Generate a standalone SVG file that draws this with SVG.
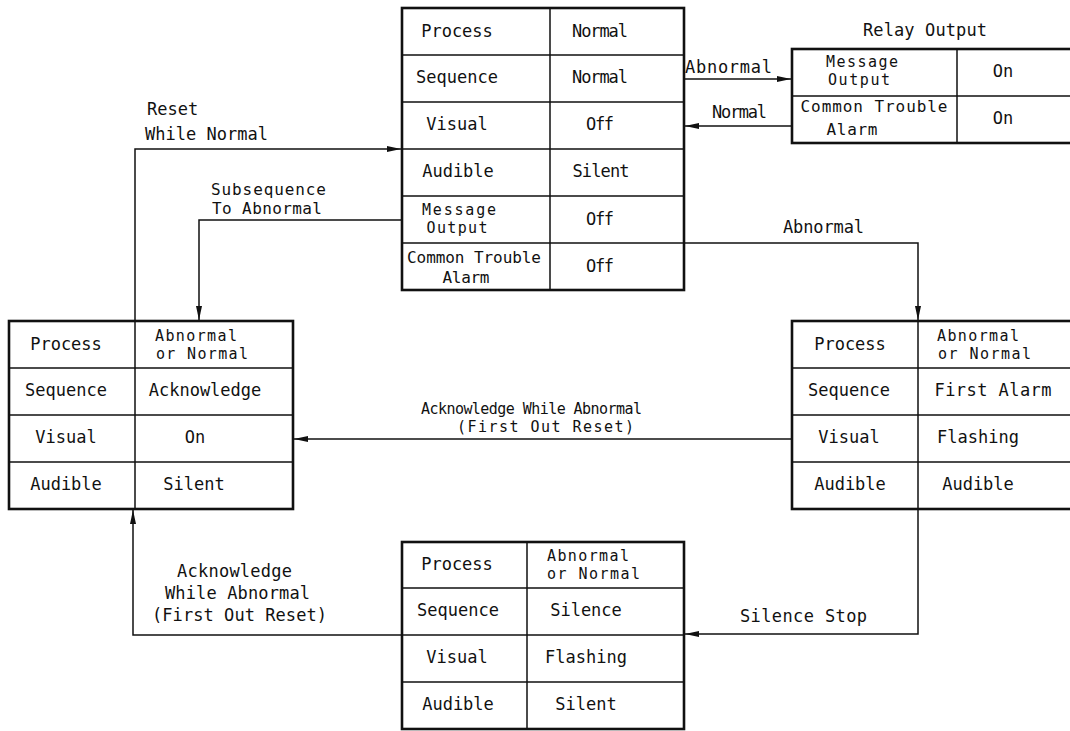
<svg xmlns="http://www.w3.org/2000/svg" width="1070" height="731" viewBox="0 0 1070 731">
  <style>
    text { font-family: "DejaVu Sans Mono", "Liberation Mono", monospace; font-size: 17px; fill: #111; }
    .m { text-anchor: middle; }
    .s { font-size: 15px; }
    .s16 { font-size: 16px; }
    .frame { fill: #fff; stroke: #111; stroke-width: 2.6; }
    .grid { stroke: #111; stroke-width: 1.5; fill: none; }
    .wire { stroke: #111; stroke-width: 1.5; fill: none; marker-end: url(#head); }
  </style>
  <defs>
    <marker id="head" viewBox="0 0 14 6" refX="14" refY="3" markerWidth="14" markerHeight="6" markerUnits="userSpaceOnUse" orient="auto">
      <path d="M0,0 L14,3 L0,6 z" fill="#111"/>
    </marker>
  </defs>
  <rect width="1070" height="731" fill="#fff"/>

  <!-- transitions between states -->
  <g id="connectors">
    <path class="wire" d="M135,321 V149 H401"/>
    <path class="wire" d="M402,220 H199 V320"/>
    <path class="wire" d="M684,243 H918 V320"/>
    <path class="wire" d="M684,79 H791"/>
    <path class="wire" d="M792,126 H685"/>
    <path class="wire" d="M792,439 H294"/>
    <path class="wire" d="M918,509 V634 H685"/>
    <path class="wire" d="M402,635 H133 V510"/>

    <text x="147" y="115">Reset</text>
    <text x="145" y="140" textLength="123">While Normal</text>
    <text class="s16" x="211" y="195" textLength="115">Subsequence</text>
    <text class="s16" x="212" y="214" textLength="110">To Abnormal</text>
    <text x="685" y="73" textLength="87">Abnormal</text>
    <text x="712" y="118" textLength="55">Normal</text>
    <text x="783" y="233" textLength="81">Abnormal</text>
    <text class="s" x="421" y="414" textLength="221">Acknowledge While Abnormal</text>
    <text class="s" x="457" y="432" textLength="177">(First Out Reset)</text>
    <text x="740" y="622" textLength="127">Silence Stop</text>
    <text x="177" y="577" textLength="115">Acknowledge</text>
    <text x="165" y="599" textLength="145">While Abnormal</text>
    <text x="152" y="621" textLength="175">(First Out Reset)</text>
  </g>

  <!-- normal (idle) state -->
  <g id="state-normal">
    <rect class="frame" x="402" y="8" width="282" height="282"/>
    <path class="grid" d="M550,8 V290 M402,55 H684 M402,102 H684 M402,149 H684 M402,196 H684 M402,243 H684"/>
    <text class="m" x="457" y="37">Process</text>
    <text class="m" x="457" y="83">Sequence</text>
    <text class="m" x="457" y="130">Visual</text>
    <text class="m" x="458" y="177">Audible</text>
    <text class="m s" x="459" y="215" textLength="74">Message</text>
    <text class="m s" x="457" y="233" textLength="61">Output</text>
    <text class="m s16" x="474" y="263" textLength="134">Common Trouble</text>
    <text class="m s16" x="466" y="283" textLength="47">Alarm</text>
    <text class="m" x="600" y="37" textLength="56">Normal</text>
    <text class="m" x="600" y="83" textLength="56">Normal</text>
    <text class="m" x="600" y="130" textLength="28">Off</text>
    <text class="m" x="601" y="177" textLength="57">Silent</text>
    <text class="m" x="600" y="225" textLength="28">Off</text>
    <text class="m" x="600" y="272" textLength="28">Off</text>
  </g>

  <!-- relay output -->
  <g id="relay-output">
    <text class="m" x="925" y="36" textLength="124">Relay Output</text>
    <rect class="frame" x="792" y="49" width="300" height="94"/>
    <path class="grid" d="M957,49 V143 M792,96 H1092"/>
    <text class="m s" x="862" y="67" textLength="72">Message</text>
    <text class="m s" x="859" y="85" textLength="62">Output</text>
    <text class="m s16" x="874" y="112" textLength="147">Common Trouble</text>
    <text class="m s16" x="852" y="135" textLength="51">Alarm</text>
    <text class="m" x="1003" y="77">On</text>
    <text class="m" x="1003" y="124">On</text>
  </g>

  <!-- acknowledged state -->
  <g id="state-acknowledge">
    <rect class="frame" x="9" y="321" width="284" height="188"/>
    <path class="grid" d="M135,321 V509 M9,368 H293 M9,415 H293 M9,462 H293"/>
    <text class="m" x="66" y="350">Process</text>
    <text class="s" x="155" y="341" textLength="82">Abnormal</text>
    <text class="s" x="156" y="359" textLength="92">or Normal</text>
    <text class="m" x="66" y="396">Sequence</text>
    <text class="m" x="205" y="396">Acknowledge</text>
    <text class="m" x="66" y="443">Visual</text>
    <text class="m" x="195" y="443">On</text>
    <text class="m" x="66" y="490">Audible</text>
    <text class="m" x="194" y="490">Silent</text>
  </g>

  <!-- first alarm state -->
  <g id="state-first-alarm">
    <rect class="frame" x="792" y="321" width="300" height="188"/>
    <path class="grid" d="M918,321 V509 M792,368 H1092 M792,415 H1092 M792,462 H1092"/>
    <text class="m" x="850" y="350">Process</text>
    <text class="s" x="937" y="341" textLength="82">Abnormal</text>
    <text class="s" x="938" y="359" textLength="93">or Normal</text>
    <text class="m" x="849" y="396">Sequence</text>
    <text class="m" x="993" y="396" textLength="117">First Alarm</text>
    <text class="m" x="849" y="443">Visual</text>
    <text class="m" x="978" y="443">Flashing</text>
    <text class="m" x="850" y="490">Audible</text>
    <text class="m" x="978" y="490">Audible</text>
  </g>

  <!-- silenced state -->
  <g id="state-silence">
    <rect class="frame" x="402" y="542" width="282" height="187"/>
    <path class="grid" d="M527,542 V729 M402,588 H684 M402,635 H684 M402,682 H684"/>
    <text class="m" x="457" y="570">Process</text>
    <text class="s" x="547" y="561" textLength="82">Abnormal</text>
    <text class="s" x="547" y="579" textLength="93">or Normal</text>
    <text class="m" x="458" y="616">Sequence</text>
    <text class="m" x="586" y="616">Silence</text>
    <text class="m" x="457" y="663">Visual</text>
    <text class="m" x="586" y="663">Flashing</text>
    <text class="m" x="458" y="710">Audible</text>
    <text class="m" x="586" y="710">Silent</text>
  </g>
</svg>
